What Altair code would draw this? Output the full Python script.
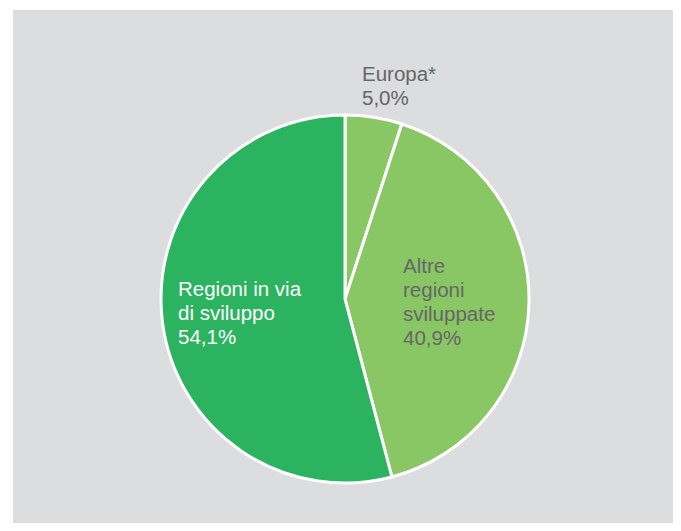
import altair as alt
import pandas as pd

categories = ["Europa*", "Altre\nregioni\nsviluppate", "Regioni in via\ndi sviluppo"]
values = [5.0, 40.9, 54.1]
colors = ["#88c764", "#88c764", "#2bb35f"]
label_colors = ["#666666", "#666666", "#ffffff"]

df = pd.DataFrame({
    "cat": categories,
    "value": values,
    "order": list(range(len(categories))),
})
df["label"] = [c + "\n" + f"{v:.1f}".replace(".", ",") + "%" for c, v in zip(categories, values)]

W, H = 665, 515
cx, cy, R = 337, 291, 184

bg = alt.Chart(pd.DataFrame({"a": [0]})).mark_rect(color="#dcdddf").encode(
    x=alt.value(5), x2=alt.value(W), y=alt.value(2), y2=alt.value(H)
)

pie = alt.Chart(df).mark_arc(outerRadius=R, stroke="white", strokeWidth=3).encode(
    theta=alt.Theta("value:Q", stack=True),
    order=alt.Order("order:Q"),
    color=alt.Color("cat:N", scale=alt.Scale(domain=categories, range=colors), legend=None),
    x=alt.value(cx),
    y=alt.value(cy),
)

# label anchor positions (left edge, first baseline), in chart pixels
label_pos = [(354, 73), (395, 265), (170, 288)]

layers = [bg, pie]
for i, (px, py) in enumerate(label_pos):
    layers.append(
        alt.Chart(df.iloc[[i]]).mark_text(
            align="left", baseline="alphabetic", lineBreak="\n",
            font="Liberation Sans", fontSize=20.5, lineHeight=24,
            color=label_colors[i],
        ).encode(text="label:N", x=alt.value(px), y=alt.value(py))
    )

chart = alt.layer(*layers).properties(
    width=W, height=H, autosize=alt.AutoSizeParams(type="none"), padding=0, background="white"
).configure_view(stroke=None)

chart.save("out.html", embed_options={"renderer": "svg", "actions": False})
